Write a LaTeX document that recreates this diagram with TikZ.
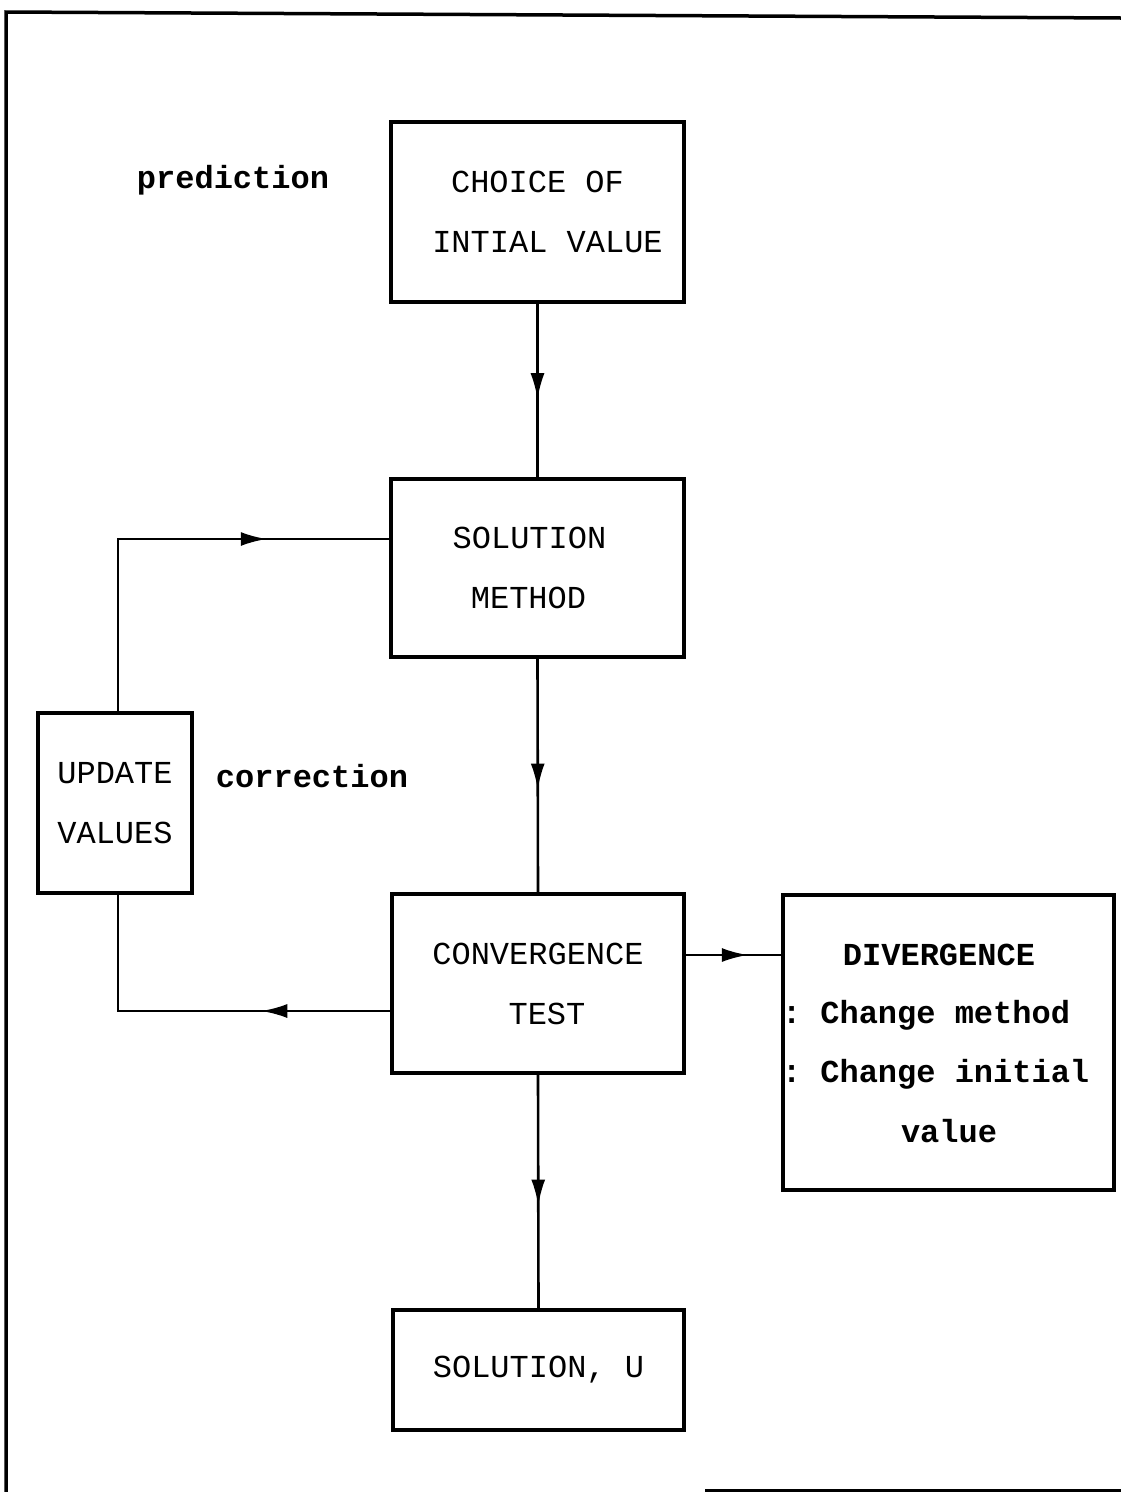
\documentclass[tikz,border=0pt]{standalone}
\usepackage{fontspec}
\newfontfamily\tw{Liberation Mono}
\usetikzlibrary{arrows.meta,decorations.markings}
\tikzset{
  box/.style={draw, line width=3.5pt, align=center, inner sep=0pt,
    font=\tw\fontsize{32}{60}\selectfont},
  lbl/.style={inner sep=0pt, font=\tw\bfseries\fontsize{32}{38}\selectfont},
  conn/.style={line width=2.6pt},
  midarrow/.style={conn, postaction={decorate}, decoration={markings,
    mark=at position #1 with {\arrow{Latex[length=26pt,width=14pt]}}}},
}
\begin{document}
\begin{tikzpicture}[x=1pt,y=-1pt]
\useasboundingbox (0,0) rectangle (1121,1492);
% frame
\draw[line width=3.5pt] (6,1492) -- (6,12) -- (1121,18);
\draw[line width=3pt] (705,1490) -- (1121,1490);
% boxes
\node[box, minimum width=293pt, minimum height=180pt] (choice) at (537.5,212) {CHOICE OF\\\hspace*{20pt}INTIAL VALUE};
\node[box, minimum width=293pt, minimum height=178pt] (sol) at (537.5,568) {\hspace*{-16pt}SOLUTION\\\hspace*{-18pt}METHOD};
\node[box, minimum width=154pt, minimum height=180pt] (upd) at (115,803) {UPDATE\\VALUES};
\node[box, minimum width=292pt, minimum height=179pt] (conv) at (538,983.5) {CONVERGENCE\\\hspace*{18pt}TEST};
\node[box, minimum width=331pt, minimum height=295pt] (div) at (948.5,1042.5) {};
\node[box, minimum width=291pt, minimum height=120pt] (res) at (538.5,1370) {SOLUTION, U};
% divergence text
\node[lbl] (d1) at (939,955) {DIVERGENCE};
\node[lbl, anchor=west] (d2) at (782,1015) {:\hspace{19pt}Change method};
\node[lbl, anchor=west] (d3) at (782,1074) {:\hspace{19pt}Change initial};
\node[lbl] (d4) at (949,1131) {value};
% labels
\node[lbl] (pred) at (233,180) {prediction};
\node[lbl] (corr) at (312,776) {correction};
% connector helper points
\coordinate (c1) at (118,1011);
\coordinate (c2) at (118,539);
% connectors
\draw[midarrow=0.55] (choice.south) -- (sol.north);
\draw[midarrow=0.56] (sol.south) -- (conv.north);
\draw[midarrow=0.56] (conv.south) -- (res.north);
\draw[midarrow=0.65] (conv.east |- d1) -- (div.west |- d1);
\draw[midarrow=129pt] (conv.west |- c1) -- (c1) -- (upd.south -| c1);
\draw[midarrow=321pt] (upd.north -| c2) -- (c2) -- (sol.west |- c2);
\end{tikzpicture}
\end{document}
